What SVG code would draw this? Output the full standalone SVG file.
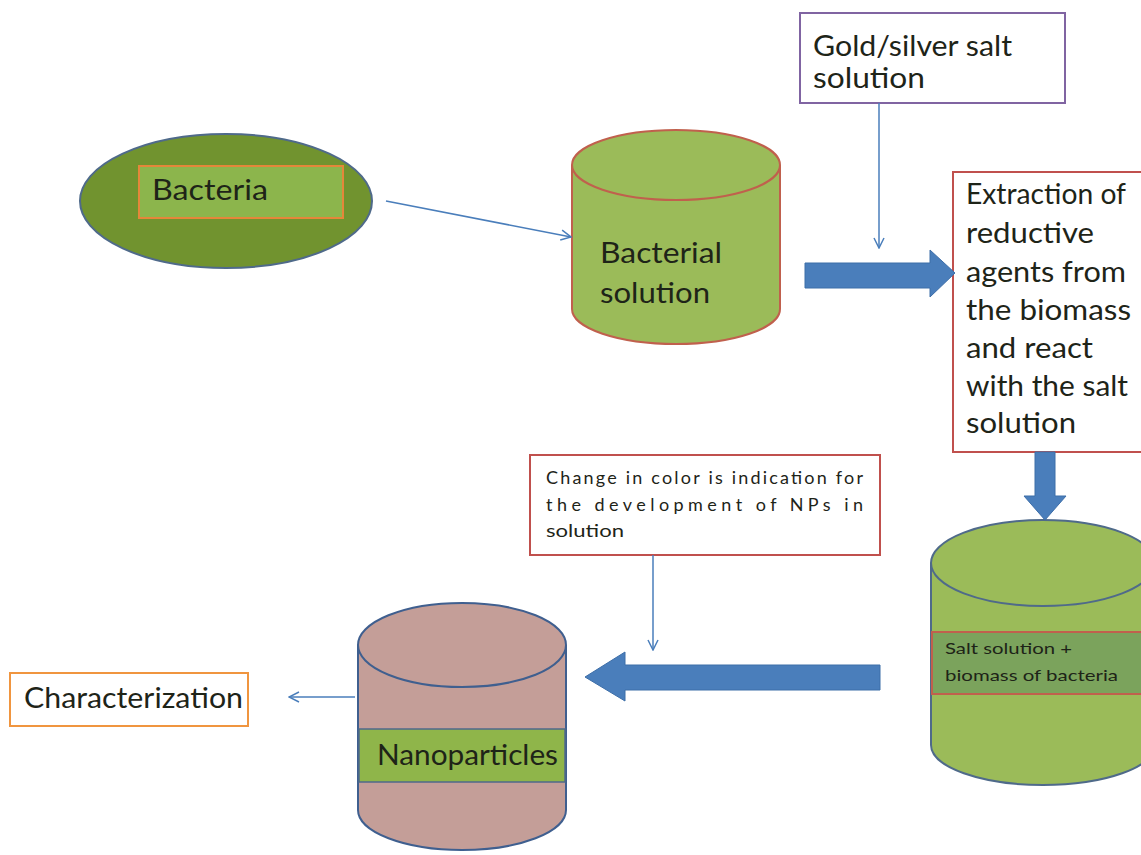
<svg xmlns="http://www.w3.org/2000/svg" width="1141" height="855" viewBox="0 0 1141 855">
<defs>
<style>
.t{font-family:Lato,"Liberation Sans",sans-serif;fill:#1e2418;}
.big{font-size:29px;}
.thin{stroke:#4a7ebb;stroke-width:1.5;fill:none;}
.blk{fill:#4a7ebb;stroke:#3d6ea8;stroke-width:1;}
</style>
<marker id="ah" viewBox="0 0 12 12" refX="11" refY="6" markerWidth="12" markerHeight="12" markerUnits="userSpaceOnUse" orient="auto">
<path d="M1,1 L11,6 L1,11" fill="none" stroke="#4a7ebb" stroke-width="1.5"/>
</marker>
</defs>
<rect width="1141" height="855" fill="#ffffff"/>

<g id="bacteria">
<ellipse cx="226" cy="201" rx="146" ry="67" fill="#71932f" stroke="#4f6a8a" stroke-width="2"/>
<rect x="139" y="166" width="204" height="52" fill="#8cb54c" stroke="#e4873a" stroke-width="2"/>
<text class="t big" x="152" y="200" textLength="116" lengthAdjust="spacingAndGlyphs">Bacteria</text>
</g>

<g id="bacterial-solution">
<path d="M572,165 L572,309 A104,35 0 0 0 780,309 L780,165" fill="#9bbb59" stroke="#c0604d" stroke-width="2"/>
<ellipse cx="676" cy="165" rx="104" ry="35" fill="#9bbb59" stroke="#c0604d" stroke-width="2"/>
<text class="t big" x="600" y="263" textLength="122" lengthAdjust="spacingAndGlyphs">Bacterial</text>
<text class="t big" x="600" y="303" textLength="110" lengthAdjust="spacingAndGlyphs">solution</text>
</g>

<g id="salt-solution">
<rect x="800" y="13" width="265" height="90" fill="#ffffff" stroke="#8064a2" stroke-width="2"/>
<text class="t big" x="813" y="56" textLength="199" lengthAdjust="spacingAndGlyphs">Gold/silver salt</text>
<text class="t big" x="813" y="88" textLength="112" lengthAdjust="spacingAndGlyphs">solution</text>
</g>

<g id="extraction">
<rect x="953" y="172" width="190" height="280" fill="#ffffff" stroke="#c0504d" stroke-width="2"/>
<text class="t big" x="966" y="204" textLength="160" lengthAdjust="spacingAndGlyphs">Extraction of</text>
<text class="t big" x="966" y="243" textLength="128" lengthAdjust="spacingAndGlyphs">reductive</text>
<text class="t big" x="966" y="282" textLength="160" lengthAdjust="spacingAndGlyphs">agents from</text>
<text class="t big" x="966" y="320" textLength="165" lengthAdjust="spacingAndGlyphs">the biomass</text>
<text class="t big" x="966" y="358" textLength="127" lengthAdjust="spacingAndGlyphs">and react</text>
<text class="t big" x="966" y="396" textLength="162" lengthAdjust="spacingAndGlyphs">with the salt</text>
<text class="t big" x="966" y="433" textLength="110" lengthAdjust="spacingAndGlyphs">solution</text>
</g>

<g id="salt-biomass">
<path d="M931,563 L931,745 A112,40 0 0 0 1155,745 L1155,563" fill="#9bbb59" stroke="#4f6a8a" stroke-width="2"/>
<ellipse cx="1043" cy="563" rx="112" ry="43" fill="#9bbb59" stroke="#4f6a8a" stroke-width="2"/>
<rect x="932" y="632" width="215" height="62" fill="#7ba35c" stroke="#c0604d" stroke-width="2"/>
<text class="t" x="945" y="654" font-size="15" textLength="127" lengthAdjust="spacingAndGlyphs">Salt  solution +</text>
<text class="t" x="945" y="681" font-size="15" textLength="173" lengthAdjust="spacingAndGlyphs">biomass  of bacteria</text>
</g>

<g id="color-change">
<rect x="530" y="455" width="350" height="100" fill="#ffffff" stroke="#c0504d" stroke-width="2"/>
<text class="t" x="546" y="484" font-size="18" fill="#333" textLength="317" lengthAdjust="spacing">Change in color is indication for</text>
<text class="t" x="546" y="511" font-size="18" textLength="317" lengthAdjust="spacing">the development of NPs in</text>
<text class="t" x="546" y="537" font-size="18" textLength="78" lengthAdjust="spacingAndGlyphs">solution</text>
</g>

<g id="nanoparticles">
<path d="M358,645 L358,810 A104,40 0 0 0 566,810 L566,645" fill="#c49e98" stroke="#3f5f8f" stroke-width="2"/>
<ellipse cx="462" cy="645" rx="104" ry="42" fill="#c49e98" stroke="#3f5f8f" stroke-width="2"/>
<rect x="359" y="729" width="206" height="53" fill="#8fb54a" stroke="#4f6a8a" stroke-width="1.5"/>
<text class="t big" x="377" y="765" textLength="181" lengthAdjust="spacingAndGlyphs">Nanoparticles</text>
</g>

<g id="characterization">
<rect x="10" y="673" width="238" height="53" fill="#ffffff" stroke="#f0953f" stroke-width="2"/>
<text class="t big" x="24" y="708" textLength="219" lengthAdjust="spacingAndGlyphs">Characterization</text>
</g>

<g id="connectors">
<line class="thin" x1="386" y1="201" x2="571" y2="237" marker-end="url(#ah)"/>
<line class="thin" x1="879" y1="103" x2="879" y2="248" marker-end="url(#ah)"/>
<line class="thin" x1="653" y1="555" x2="653" y2="650" marker-end="url(#ah)"/>
<line class="thin" x1="355" y1="697" x2="289" y2="697" marker-end="url(#ah)"/>
<polygon class="blk" points="805,263 930,263 930,250 955,273 930,297 930,288 805,288"/>
<polygon class="blk" points="1035,452 1055,452 1055,496 1066,496 1045,520 1024,496 1035,496"/>
<polygon class="blk" points="880,665 625,665 625,652 585,677 625,701 625,690 880,690"/>
</g>
</svg>
